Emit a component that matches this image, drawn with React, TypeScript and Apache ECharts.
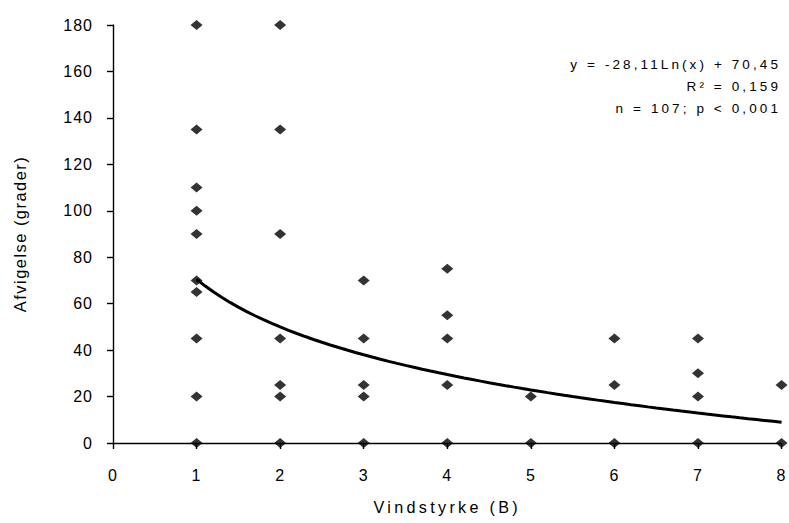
import React, { useEffect, useRef } from "react";
import * as echarts from "echarts";

const xTicks = [0, 1, 2, 3, 4, 5, 6, 7, 8];
const yTicks = [0, 20, 40, 60, 80, 100, 120, 140, 160, 180];

// observations: wind force (B) -> deviation (degrees)
const wind1 = [180, 135, 110, 100, 90, 70, 65, 45, 20, 0];
const wind2 = [180, 135, 90, 45, 25, 20, 0];
const wind3 = [70, 45, 25, 20, 0];
const wind4 = [75, 55, 45, 25, 0];
const wind5 = [20, 0];
const wind6 = [45, 25, 0];
const wind7 = [45, 30, 20, 0];
const wind8 = [25, 0];
const windGroups = [wind1, wind2, wind3, wind4, wind5, wind6, wind7, wind8];

// logarithmic trend curve as drawn in the picture: y = a*ln(x) + b
const trendA = -29.6;
const trendB = 70.5;
const trendFrom = 1;
const trendTo = 8;

const annotationLines = ["y = -28,11Ln(x) + 70,45", "R² = 0,159", "n = 107; p < 0,001"];

const FONT = "'Liberation Sans', Arial, Helvetica, sans-serif";

const css = `
#chart text[style*="16px"]{letter-spacing:1px}
#chart text[style*="16.2px"]{letter-spacing:3.3px}
#chart text[style*="16.4px"]{letter-spacing:1.5px}
#chart text[style*="13.5px"]{letter-spacing:3.1px}
`;

export default function App() {
  const ref = useRef<HTMLDivElement>(null);
  useEffect(() => {
    document.body.style.margin = "0";
    if (!ref.current) return;
    const chart = echarts.init(ref.current, undefined, { renderer: "svg" });
    const points: number[][] = [];
    windGroups.forEach((g, i) => g.forEach((v) => points.push([i + 1, v])));
    const trend: number[][] = [];
    for (let k = 0; k <= 70; k++) {
      const x = trendFrom + ((trendTo - trendFrom) * k) / 70;
      trend.push([x, trendA * Math.log(x) + trendB]);
    }
    const axisCommon = {
      axisLine: { show: true, onZero: false, lineStyle: { color: "#000", width: 1.4 } },
      axisTick: { show: true, length: 6, lineStyle: { color: "#000", width: 1.4 } },
      splitLine: { show: false },
      axisLabel: { color: "#000", fontSize: 16, fontFamily: FONT, margin: 20 },
    };
    chart.setOption({
      animation: false,
      backgroundColor: "#fff",
      grid: { left: 113, right: 5, top: 25, bottom: 80, containLabel: false },
      xAxis: {
        ...axisCommon,
        type: "value",
        min: xTicks[0],
        max: xTicks[xTicks.length - 1],
        interval: 1,
        name: "Vindstyrke (B)",
        nameLocation: "middle",
        nameGap: 56,
        nameTextStyle: { color: "#000", fontSize: 16.2, fontFamily: FONT },
        axisLabel: { ...axisCommon.axisLabel, margin: 24 },
      },
      yAxis: {
        ...axisCommon,
        type: "value",
        min: yTicks[0],
        max: yTicks[yTicks.length - 1],
        interval: 20,
        name: "Afvigelse (grader)",
        nameLocation: "middle",
        nameGap: 85,
        nameTextStyle: { color: "#000", fontSize: 16.4, fontFamily: FONT },
      },
      series: [
        {
          type: "scatter",
          data: points,
          symbol: "diamond",
          symbolSize: [12, 10],
          itemStyle: { color: "#000" },
          z: 3,
        },
        {
          type: "line",
          data: trend,
          showSymbol: false,
          smooth: false,
          lineStyle: { color: "#000", width: 3 },
          z: 4,
        },
      ],
      graphic: annotationLines.map((t, i) => ({
        type: "text",
        right: 8,
        top: 57 + i * 22,
        style: { text: t, fill: "#000", font: `13.5px ${FONT}`, textAlign: "right" },
      })),
    });
    return () => chart.dispose();
  }, []);
  return (
    <>
      <style>{css}</style>
      <div id="chart" ref={ref} style={{ width: 789, height: 523 }} />
    </>
  );
}
